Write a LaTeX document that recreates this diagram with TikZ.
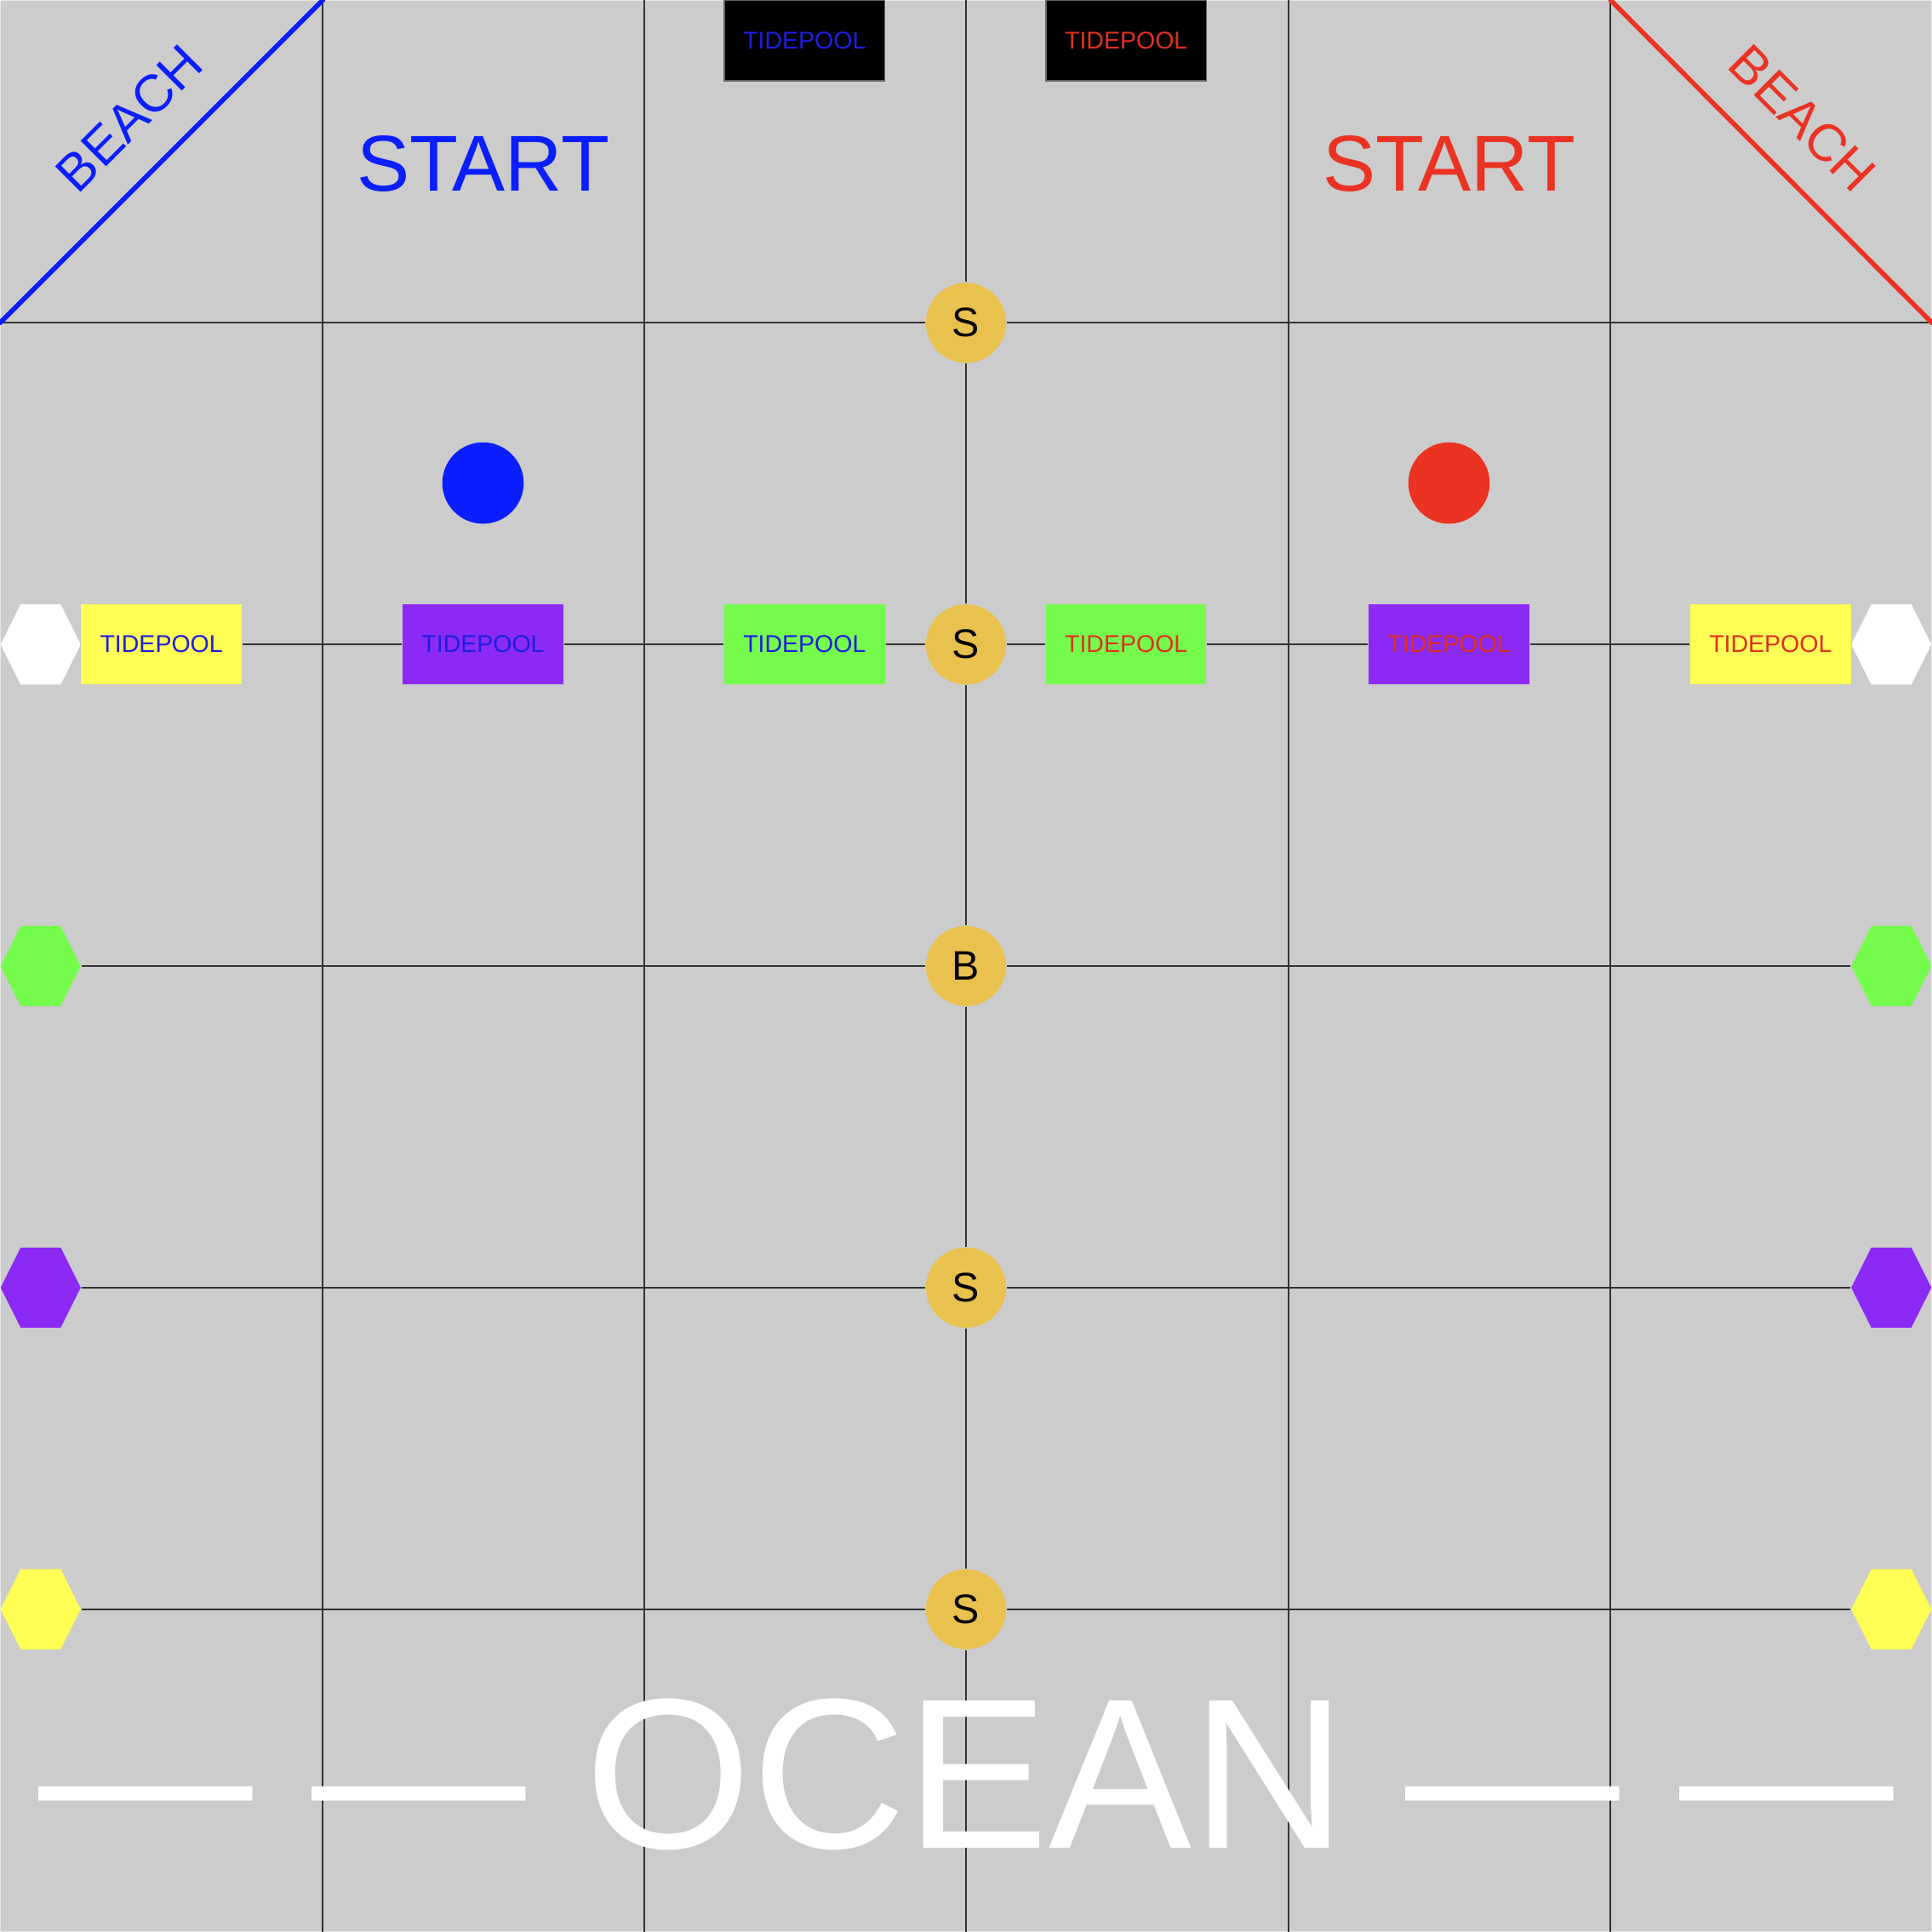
\documentclass[tikz,border=0pt]{standalone}
\usepackage{fontspec}
\setmainfont{Liberation Sans}
\usetikzlibrary{backgrounds,calc}
\definecolor{bg}{HTML}{CCCCCC}
\definecolor{bblue}{HTML}{0A1EFF}
\definecolor{rred}{HTML}{EA3323}
\definecolor{sgold}{HTML}{E9C14E}
\definecolor{tyellow}{HTML}{FFFF55}
\definecolor{tpurple}{HTML}{8B2AF5}
\definecolor{tgreen}{HTML}{75FB4C}
\definecolor{tblue}{HTML}{1E1EE0}
\definecolor{tred}{HTML}{E03020}
\begin{document}
\begin{tikzpicture}[x=0.01cm,y=-0.01cm,
  gridline/.style={draw=black!80, line width=0.35pt},
  beachline/.style={line width=1.1pt, line cap=round},
  tide/.style={rectangle, minimum width=1.3cm, minimum height=0.65cm, inner sep=0pt,
    font=\fontsize{5.6}{6.5}\selectfont},
  spot/.style={circle, fill=sgold, minimum size=0.65cm, inner sep=0pt,
    font=\fontsize{9.5}{11}\selectfont},
  token/.style={circle, minimum size=0.66cm, inner sep=0pt},
  hexa/.style={rectangle, minimum width=0.65cm, minimum height=0.65cm, inner sep=0pt,
    path picture={\fill[#1] (path picture bounding box.west)
      -- ($(path picture bounding box.north west)!0.25!(path picture bounding box.north east)$)
      -- ($(path picture bounding box.north west)!0.75!(path picture bounding box.north east)$)
      -- (path picture bounding box.east)
      -- ($(path picture bounding box.south west)!0.75!(path picture bounding box.south east)$)
      -- ($(path picture bounding box.south west)!0.25!(path picture bounding box.south east)$)
      -- cycle;}},
  bigtext/.style={inner sep=0pt, anchor=base}
]
\useasboundingbox (0,0) rectangle (1568,1568);

% nodes
\node[spot] (s1) at (784,262) {S};
\node[spot] (s2) at (784,523) {S};
\node[spot] (b)  at (784,784) {B};
\node[spot] (s3) at (784,1045) {S};
\node[spot] (s4) at (784,1306) {S};

\node[tide, fill=black, draw=black!60, line width=0.3pt, text=tblue] (ttl) at (653,33) {TIDEPOOL};
\node[tide, fill=black, draw=black!60, line width=0.3pt, text=tred] (ttr) at (914,33) {TIDEPOOL};

\node[tide, fill=tyellow, text=tblue] (tyl) at (131,523) {TIDEPOOL};
\node[tide, fill=tpurple, text=tblue] (tpl) at (392,523) {TIDEPOOL};
\node[tide, fill=tgreen, text=tblue] (tgl) at (653,523) {TIDEPOOL};
\node[tide, fill=tgreen, text=tred] (tgr) at (914,523) {TIDEPOOL};
\node[tide, fill=tpurple, text=tred] (tpr) at (1176,523) {TIDEPOOL};
\node[tide, fill=tyellow, text=tred] (tyr) at (1437,523) {TIDEPOOL};

\node[hexa=white] (hwl) at (33,523) {};
\node[hexa=white] (hwr) at (1535,523) {};
\node[hexa=tgreen] (hgl) at (33,784) {};
\node[hexa=tgreen] (hgr) at (1535,784) {};
\node[hexa=tpurple] (hpl) at (33,1045) {};
\node[hexa=tpurple] (hpr) at (1535,1045) {};
\node[hexa=tyellow] (hyl) at (33,1306) {};
\node[hexa=tyellow] (hyr) at (1535,1306) {};

\node[token, fill=bblue] (pb) at (392,392) {};
\node[token, fill=rred] (pr) at (1176,392) {};

\node[bigtext, text=bblue, font=\fontsize{18.3}{20}\selectfont] (startl) at (392,155) {START};
\node[bigtext, text=rred, font=\fontsize{18.3}{20}\selectfont] (startr) at (1176,155) {START};

\node[inner sep=0pt, text=bblue, rotate=45, font=\fontsize{12.1}{13}\selectfont] (beachl) at (105,96) {BEACH};
\node[inner sep=0pt, text=rred, rotate=-45, font=\fontsize{12.1}{13}\selectfont] (beachr) at (1463,96) {BEACH};

\node[bigtext, text=white, font=\fontsize{49.4}{52}\selectfont] (ocean) at (784,1500) {— — OCEAN — —};

\coordinate (bl1) at (0,262);
\coordinate (bl2) at (262,0);
\coordinate (br1) at (1307,0);
\coordinate (br2) at (1568,262);
\draw[beachline, bblue] (bl1) -- (bl2);
\draw[beachline, rred] (br1) -- (br2);

% free ends
\coordinate (v1t) at (262,0);   \coordinate (v1b) at (262,1568);
\coordinate (v2t) at (523,0);   \coordinate (v2b) at (523,1568);
\coordinate (v3t) at (784,0);   \coordinate (v3b) at (784,1568);
\coordinate (v4t) at (1046,0);  \coordinate (v4b) at (1046,1568);
\coordinate (v5t) at (1307,0);  \coordinate (v5b) at (1307,1568);
\coordinate (h1l) at (0,262);   \coordinate (h1r) at (1568,262);

\begin{pgfonlayer}{background}
  \fill[bg, draw=black!8, line width=0.4pt] (0,0) rectangle (1568,1568);
  \draw[gridline] (v1t) -- (v1b);
  \draw[gridline] (v2t) -- (v2b);
  \draw[gridline] (v4t) -- (v4b);
  \draw[gridline] (v5t) -- (v5b);
  \draw[gridline] (v3t) -- (s1) -- (s2) -- (b) -- (s3) -- (s4) -- (v3b);
  \draw[gridline] (h1l) -- (s1) -- (h1r);
  \draw[gridline] (hwl) -- (tyl) -- (tpl) -- (tgl) -- (s2) -- (tgr) -- (tpr) -- (tyr) -- (hwr);
  \draw[gridline] (hgl) -- (b) -- (hgr);
  \draw[gridline] (hpl) -- (s3) -- (hpr);
  \draw[gridline] (hyl) -- (s4) -- (hyr);
\end{pgfonlayer}
\end{tikzpicture}
\end{document}
